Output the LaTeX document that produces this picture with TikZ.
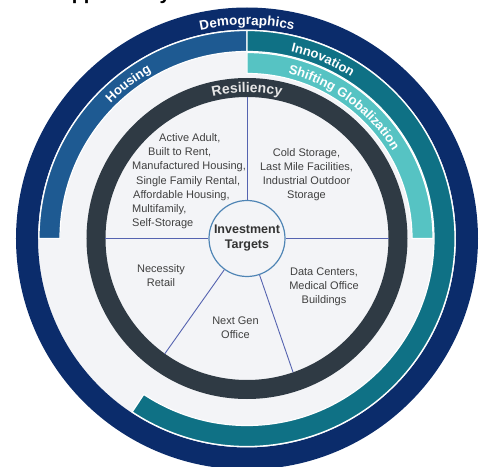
\documentclass[tikz,border=0pt]{standalone}
\usepackage{fontspec}
\setmainfont{Liberation Sans}
\usetikzlibrary{decorations.text}

\definecolor{navy}{HTML}{0B2C6B}
\definecolor{housingblue}{HTML}{1E5A92}
\definecolor{innoteal}{HTML}{0F7185}
\definecolor{shiftteal}{HTML}{56C3C3}
\definecolor{resdark}{HTML}{2F3A44}
\definecolor{paper}{HTML}{F3F4F7}
\definecolor{divider}{HTML}{5563B0}
\definecolor{hubline}{HTML}{4F85B5}
\definecolor{bodytext}{HTML}{404040}
\definecolor{restext}{HTML}{E6E6E6}

\newcommand{\bandfont}{\fontsize{13}{15}\selectfont\bfseries}
\newcommand{\demofont}{\fontsize{13.5}{16}\selectfont\bfseries}
\newcommand{\resfont}{\fontsize{14}{16}\selectfont\bfseries}

\tikzset{
  band/.style={draw=white, line width=1.2pt},
  spoke/.style={draw=divider, line width=0.9pt},
  ringtext/.style={decorate, decoration={text along path, text align=center, text color=#1}},
  segtext/.style={text=bodytext, font=\fontsize{11}{14}\selectfont, inner sep=0pt},
  hub/.style={circle, draw=hubline, line width=1.2pt, fill=paper, minimum size=76pt,
              inner sep=0pt, align=center, text=black!80, font=\fontsize{12.5}{15}\selectfont\bfseries},
}

\begin{document}
\begin{tikzpicture}[x=1pt, y=1pt]
\useasboundingbox (-247,-227.5) rectangle (235,238.5);
\begin{scope}
\clip (-247,-227.5) rectangle (235,238.5);

% heading above the wheel
\node[anchor=base west, inner sep=0pt, font=\fontsize{20}{24}\selectfont\bfseries] (title) at (-191,238.5) {Opportunity};

% inner field and outer Demographics ring
\fill[paper] (0,0) circle (209);
\fill[navy, even odd rule] (0,0) circle (231) (0,0) circle (209);

% driver bands
\path[band, fill=housingblue] (180:187) arc[start angle=180, end angle=90, radius=187]
  -- (90:208) arc[start angle=90, end angle=180, radius=208] -- cycle;
\path[band, fill=innoteal] (90:187) arc[start angle=90, end angle=-123.5, radius=187]
  -- (-123.5:208) arc[start angle=-123.5, end angle=90, radius=208] -- cycle;
\path[band, fill=shiftteal] (90:165) arc[start angle=90, end angle=0, radius=165]
  -- (0:186) arc[start angle=0, end angle=90, radius=186] -- cycle;

% Resiliency ring
\fill[resdark, even odd rule] (0,0) circle (160.5) (0,0) circle (141.5);

% hub and spokes
\node[hub] (it) at (0,0) {Investment\\Targets};
\coordinate (sN) at (90:141.5);
\coordinate (sE) at (0:141.5);
\coordinate (sW) at (180:141.5);
\coordinate (sSW) at (234.5:141.5);
\coordinate (sSE) at (-71:141.5);
\draw[spoke] (it.90) -- (sN);
\draw[spoke] (it.0) -- (sE);
\draw[spoke] (it.180) -- (sW);
\draw[spoke] (it.234.5) -- (sSW);
\draw[spoke] (it.-71) -- (sSE);

% ring labels
\path[ringtext=white] (115:213.5) arc[start angle=115, end angle=65, radius=213.5]
  [decoration={text={|\demofont|Demographics}}];
\path[ringtext=white] (150:192) arc[start angle=150, end angle=105, radius=192]
  [decoration={text={|\bandfont|Housing}}];
\path[ringtext=white] (90:192) arc[start angle=90, end angle=44, radius=192]
  [decoration={text={|\bandfont|Innovation}}];
\path[ringtext=white] (85:170) arc[start angle=85, end angle=22, radius=170]
  [decoration={text={|\bandfont|Shifting Globalization}}];
\path[ringtext=restext] (115:146) arc[start angle=115, end angle=65, radius=146]
  [decoration={text={|\resfont|Resiliency}}];

% sector contents
\node[segtext, anchor=base west] (h1) at (-88,96.5) {Active Adult,};
\node[segtext, anchor=base west] (h2) at (-99,82.5) {Built to Rent,};
\node[segtext, anchor=base west] (h3) at (-115,68.5) {Manufactured Housing,};
\node[segtext, anchor=base west] (h4) at (-111,54.5) {Single Family Rental,};
\node[segtext, anchor=base west] (h5) at (-114,40.5) {Affordable Housing,};
\node[segtext, anchor=base west] (h6) at (-115,26.5) {Multifamily,};
\node[segtext, anchor=base west] (h7) at (-115,12.5) {Self-Storage};

\node[segtext, align=center] (logi) at (59.5,64.2) {Cold Storage,\\Last Mile Facilities,\\Industrial Outdoor\\Storage};
\node[segtext, align=center] (retail) at (-86,-37) {Necessity\\Retail};
\node[segtext, align=center] (office) at (-11.5,-89.5) {Next Gen\\Office};
\node[segtext, align=center] (health) at (77,-48) {Data Centers,\\Medical Office\\Buildings};
\end{scope}
\end{tikzpicture}
\end{document}
